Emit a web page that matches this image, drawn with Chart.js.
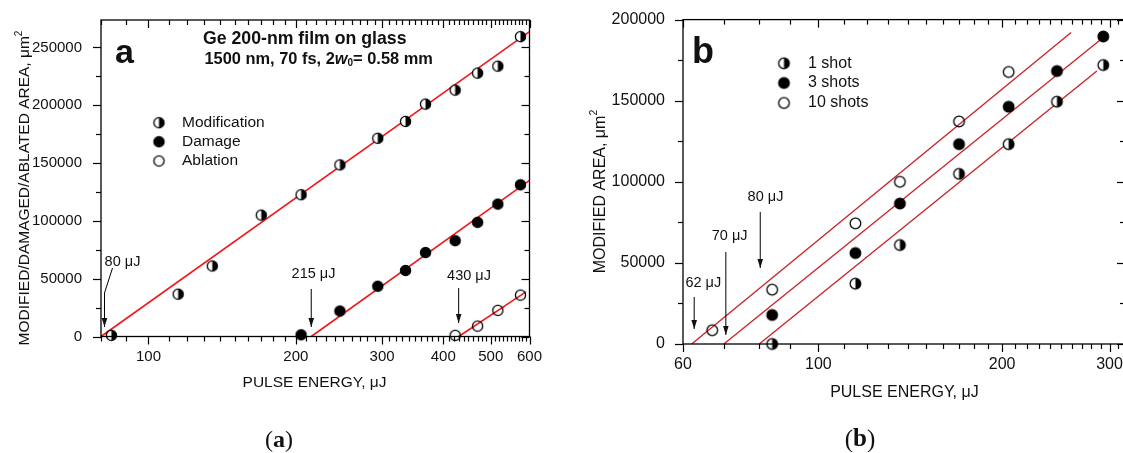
<!DOCTYPE html>
<html>
<head>
<meta charset="utf-8">
<title>Ge 200-nm film on glass: modified area vs pulse energy</title>
<script src="https://cdn.jsdelivr.net/npm/chart.js@4.4.1/dist/chart.umd.min.js"></script>
<style>
  html, body { margin: 0; padding: 0; background: #fff; }
  body { position: relative; width: 1123px; height: 453px; overflow: hidden; }
  canvas { position: absolute; top: 0; }
  #chartA { left: 0; }
  #chartB { left: 560px; }
</style>
</head>
<body>
<canvas id="chartA" width="560" height="453"></canvas>
<canvas id="chartB" width="580" height="453"></canvas>
<script>
// ============================================
// Data - panel (a): Ge film, one shot per spot
// ============================================

const A_MOD_E = [84, 115, 135, 170, 205, 246, 294, 335, 368, 423, 470, 517, 575];
const A_MOD = [1000, 36600, 61000, 105000, 122600, 148400, 171400, 186000, 201000, 213100, 227800, 233800, 259300];
const A_DMG_E = [205, 246, 294, 335, 368, 423, 470, 517, 575];
const A_DMG = [1500, 22000, 43500, 57100, 72600, 82900, 98700, 114500, 131200];
const A_ABL_E = [423, 470, 517, 575];
const A_ABL = [1000, 9000, 22600, 35800];

// fitted lines (end points)
const A_MOD_FIT_E = [80, 600];
const A_MOD_FIT = [0, 263600];
const A_DMG_FIT_E = [215, 600];
const A_DMG_FIT = [0, 135000];
const A_ABL_FIT_E = [430, 590];
const A_ABL_FIT = [0, 38600];

const A_LEGEND = ['Modification', 'Damage', 'Ablation'];
const A_THRESH = [80, 215, 430];
const A_X_TICKS = [100, 200, 300, 400, 500, 600];
const A_Y_TICKS = [0, 50000, 100000, 150000, 200000, 250000];

// ============================================
// Data - panel (b): number of shots
// ============================================

const B_E = [84, 115, 136, 170, 205, 246, 293];
const B_1SHOT = [0, 37200, 61000, 104900, 123200, 149400, 172000];
const B_3SHOT = [17900, 56100, 86600, 123200, 146300, 168300, 189600];
const B_10SHOT_E = [67, 84, 115, 136, 170, 205];
const B_10SHOT = [8500, 33500, 74400, 100000, 137200, 167700];

const B_1SHOT_FIT_E = [80, 286];
const B_1SHOT_FIT = [0, 168300];
const B_3SHOT_FIT_E = [70, 296];
const B_3SHOT_FIT = [0, 190400];
const B_10SHOT_FIT_E = [62, 259.5];
const B_10SHOT_FIT = [0, 192000];

const B_LEGEND = ['1 shot', '3 shots', '10 shots'];
const B_THRESH = [62, 70, 80];
const B_X_TICKS = [60, 100, 200, 300];
const B_Y_TICKS = [0, 50000, 100000, 150000, 200000];

// ============================================
// Helpers
// ============================================

const SANS = '"Liberation Sans", Arial, sans-serif';
const SERIF = '"Liberation Serif", "DejaVu Serif", serif';
const INK = '#111';

function pts(xs, ys) {
    return xs.map((x, i) => ({ x: x, y: ys[i] }));
}

// marker sprites: half-filled, filled and open circles
function dotImage(kind, r) {
    const s = Math.ceil(r * 2 + 4);
    const c = document.createElement('canvas');
    c.width = c.height = s;
    const g = c.getContext('2d');
    const m = s / 2;
    if (kind !== 'open') {
        g.beginPath();
        g.arc(m, m, r, 0, Math.PI * 2);
        g.fillStyle = kind === 'full' ? '#000' : '#fff';
        g.fill();
    }
    if (kind === 'half') {
        g.beginPath();
        g.arc(m, m, r, -Math.PI / 2, Math.PI / 2);
        g.closePath();
        g.fillStyle = '#000';
        g.fill();
    }
    g.beginPath();
    g.arc(m, m, r, 0, Math.PI * 2);
    g.lineWidth = 1.3;
    g.strokeStyle = '#000';
    g.stroke();
    return c;
}

// draws text pieces one after another (for sub/superscripts)
function richWidth(ctx, parts) {
    let w = 0;
    parts.forEach(p => { ctx.font = p.f; w += ctx.measureText(p.t).width; });
    return w;
}

function richText(ctx, parts, x, y) {
    ctx.textAlign = 'left';
    ctx.textBaseline = 'middle';
    parts.forEach(p => {
        ctx.font = p.f;
        ctx.fillText(p.t, x, y + (p.dy || 0));
        x += ctx.measureText(p.t).width;
    });
}

function arrow(ctx, path) {
    ctx.beginPath();
    ctx.moveTo(path[0][0], path[0][1]);
    for (let i = 1; i < path.length; i++) ctx.lineTo(path[i][0], path[i][1]);
    ctx.stroke();
    const [x1, y1] = path[path.length - 2];
    const [x2, y2] = path[path.length - 1];
    const a = Math.atan2(y2 - y1, x2 - x1);
    const L = 9, W = 2.8;
    ctx.beginPath();
    ctx.moveTo(x2, y2);
    ctx.lineTo(x2 - L * Math.cos(a) + W * Math.sin(a), y2 - L * Math.sin(a) - W * Math.cos(a));
    ctx.lineTo(x2 - L * Math.cos(a) - W * Math.sin(a), y2 - L * Math.sin(a) + W * Math.cos(a));
    ctx.closePath();
    ctx.fill();
}

function tenSteps(min, max, skip) {
    const out = [];
    for (let v = Math.ceil(min / 10) * 10; v <= max + 1e-6; v += 10) {
        if (skip.indexOf(v) < 0) out.push(v);
    }
    return out;
}

function segment(ctx, x1, y1, x2, y2) {
    ctx.beginPath();
    ctx.moveTo(x1, y1);
    ctx.lineTo(x2, y2);
    ctx.stroke();
}

// ============================================
// Decoration plugin (frame, ticks, labels, legend)
// ============================================

function decoPlugin(cfg) {
    return {
        id: 'deco',
        afterDraw(chart) {
            const ctx = chart.ctx;
            const ca = chart.chartArea;
            const xs = chart.scales.x;
            const ys = chart.scales.y;
            const px = v => Math.round(xs.getPixelForValue(v)) + 0.5;
            const py = v => Math.round(ys.getPixelForValue(v)) + 0.5;
            const L = ca.left, R = ca.right, T = ca.top, B = ca.bottom;

            ctx.save();
            ctx.strokeStyle = '#000';
            ctx.fillStyle = INK;

            // frame
            ctx.lineWidth = 1.3;
            ctx.strokeRect(L, T, R - L, B - T);

            // ticks: outward on bottom/left, inward on top/right
            ctx.lineWidth = 1.2;
            const xMinor = tenSteps(cfg.xMin, cfg.xMax, cfg.xTicks);
            const yMinor = cfg.yTicks.map(v => v + 25000).filter(v => v < cfg.yMax);
            cfg.xTicks.forEach(v => {
                const p = px(v);
                segment(ctx, p, B, p, B + 8);
                segment(ctx, p, T, p, T + 8);
            });
            xMinor.forEach(v => {
                const p = px(v);
                segment(ctx, p, B, p, B + 5);
                segment(ctx, p, T, p, T + 5);
            });
            cfg.yTicks.forEach(v => {
                const p = py(v);
                segment(ctx, L, p, L - 8, p);
                segment(ctx, R, p, R - 8, p);
            });
            yMinor.forEach(v => {
                const p = py(v);
                segment(ctx, L, p, L - 5, p);
                segment(ctx, R, p, R - 5, p);
            });

            // panel letter
            ctx.font = cfg.letter.f;
            ctx.textAlign = 'left';
            ctx.textBaseline = 'alphabetic';
            ctx.fillText(cfg.letter.t, cfg.letter.x, cfg.letter.y);

            // heading lines
            (cfg.heading || []).forEach(h => richText(ctx, h.parts, h.x, h.y));

            // legend
            const lg = cfg.legend;
            lg.labels.forEach((t, i) => {
                const img = lg.dots[i];
                ctx.drawImage(img, lg.dotX - img.width / 2, lg.ys[i] - img.height / 2);
                ctx.font = lg.f;
                ctx.textAlign = 'left';
                ctx.textBaseline = 'middle';
                ctx.fillText(t, lg.textX, lg.ys[i]);
            });

            // threshold arrows
            ctx.lineWidth = 1;
            cfg.arrows.forEach(a => {
                const X = xs.getPixelForValue(a.value) + a.dx;
                arrow(ctx, a.path(X));
                ctx.font = cfg.noteFont;
                ctx.textAlign = 'center';
                ctx.textBaseline = 'middle';
                ctx.fillText(a.label, a.lx, a.ly);
            });

            // x axis title
            const xt = cfg.xTitle;
            richText(ctx, xt.parts, xt.x - richWidth(ctx, xt.parts) / 2, xt.y);

            // y axis title (rotated)
            const yt = cfg.yTitle;
            ctx.save();
            ctx.translate(yt.x, yt.y);
            ctx.rotate(-Math.PI / 2);
            richText(ctx, yt.parts, -richWidth(ctx, yt.parts) / 2, 0);
            ctx.restore();

            // caption under the panel
            const cp = cfg.caption;
            richText(ctx, cp.parts, cp.x - richWidth(ctx, cp.parts) / 2, cp.y);

            ctx.restore();
        }
    };
}

// ============================================
// Chart factory
// ============================================

function makeChart(id, cfg) {
    return new Chart(document.getElementById(id), {
        type: 'scatter',
        data: { datasets: cfg.datasets },
        options: {
            responsive: false,
            animation: false,
            devicePixelRatio: 1,
            layout: { padding: cfg.pad },
            plugins: {
                legend: { display: false },
                tooltip: { enabled: false }
            },
            scales: {
                x: {
                    type: 'logarithmic',
                    min: cfg.xMin,
                    max: cfg.xMax,
                    grid: { display: false },
                    border: { display: false },
                    afterFit: s => { s.height = cfg.xH; },
                    afterBuildTicks: s => { s.ticks = cfg.xTicks.map(v => ({ value: v })); },
                    ticks: {
                        autoSkip: false,
                        maxRotation: 0,
                        padding: cfg.xPad,
                        color: INK,
                        font: { family: SANS, size: cfg.tickSize },
                        callback: v => String(v)
                    }
                },
                y: {
                    type: 'linear',
                    min: 0,
                    max: cfg.yMax,
                    grid: { display: false },
                    border: { display: false },
                    afterFit: s => { s.width = cfg.yW; },
                    afterBuildTicks: s => { s.ticks = cfg.yTicks.map(v => ({ value: v })); },
                    ticks: {
                        padding: cfg.yPad,
                        color: INK,
                        font: { family: SANS, size: cfg.tickSize },
                        callback: v => String(v)
                    }
                }
            }
        },
        plugins: [decoPlugin(cfg)]
    });
}

function markers(data, img) {
    return { data: data, pointStyle: img, pointRadius: 5, pointHoverRadius: 5, showLine: false, clip: false, order: 1 };
}

function fitLine(data, color, width) {
    return { data: data, showLine: true, pointRadius: 0, pointHoverRadius: 0, borderColor: color, borderWidth: width, clip: false, order: 2 };
}

// ============================================
// Panel (a)
// ============================================

const dotsA = [dotImage('half', 5.1), dotImage('full', 5.1), dotImage('open', 5.1)];
const RED_A = '#f2191c';

makeChart('chartA', {
    datasets: [
        markers(pts(A_MOD_E, A_MOD), dotsA[0]),
        markers(pts(A_DMG_E, A_DMG), dotsA[1]),
        markers(pts(A_ABL_E, A_ABL), dotsA[2]),
        fitLine(pts(A_MOD_FIT_E, A_MOD_FIT), RED_A, 1.6),
        fitLine(pts(A_DMG_FIT_E, A_DMG_FIT), RED_A, 1.6),
        fitLine(pts(A_ABL_FIT_E, A_ABL_FIT), RED_A, 1.6)
    ],
    pad: { left: 0, top: 19, right: 30.5, bottom: 0 },
    xH: 116.5, yW: 101,
    xMin: 80, xMax: 600, yMax: 273700,
    xTicks: A_X_TICKS, yTicks: A_Y_TICKS,
    tickSize: 15, xPad: 3, yPad: 11,
    letter: { t: 'a', f: 'bold 34px ' + SANS, x: 115, y: 63 },
    heading: [
        { x: 203, y: 39, parts: [{ t: 'Ge 200-nm film on glass', f: 'bold 17.7px ' + SANS }] },
        { x: 204.5, y: 59, parts: [
            { t: '1500 nm, 70 fs, 2', f: 'bold 16.4px ' + SANS },
            { t: 'w', f: 'italic bold 16.4px ' + SANS },
            { t: '0', f: 'bold 10px ' + SANS, dy: 4 },
            { t: '= 0.58 mm', f: 'bold 16.4px ' + SANS }
        ] }
    ],
    legend: { labels: A_LEGEND, dots: dotsA, dotX: 159, textX: 182, ys: [122.7, 141.7, 161], f: '15.5px ' + SANS },
    noteFont: '14.5px ' + SANS,
    arrows: [
        { label: A_THRESH[0] + ' μJ', value: A_THRESH[0], dx: 3.5, lx: 122.5, ly: 261.5,
          path: X => [[112.5, 268], [X, 293], [X, 327]] },
        { label: A_THRESH[1] + ' μJ', value: A_THRESH[1], dx: 0, lx: 313.5, ly: 274,
          path: X => [[X, 289], [X, 327]] },
        { label: A_THRESH[2] + ' μJ', value: A_THRESH[2], dx: 0, lx: 469, ly: 276,
          path: X => [[X, 288], [X, 323]] }
    ],
    xTitle: { x: 314.5, y: 383, parts: [{ t: 'PULSE ENERGY, μJ', f: '15.5px ' + SANS }] },
    yTitle: { x: 25, y: 188, parts: [
        { t: 'MODIFIED/DAMAGED/ABLATED AREA, μm', f: '15.5px ' + SANS },
        { t: '2', f: '10px ' + SANS, dy: -6 }
    ] },
    caption: { x: 279, y: 440.5, parts: [
        { t: '(', f: '24px ' + SERIF },
        { t: 'a', f: 'bold 24px ' + SERIF },
        { t: ')', f: '24px ' + SERIF }
    ] }
});

// ============================================
// Panel (b)
// ============================================

const dotsB = [dotImage('half', 5.3), dotImage('full', 5.3), dotImage('open', 5.3)];
const RED_B = '#c9252b';

makeChart('chartB', {
    datasets: [
        markers(pts(B_E, B_1SHOT), dotsB[0]),
        markers(pts(B_E, B_3SHOT), dotsB[1]),
        markers(pts(B_10SHOT_E, B_10SHOT), dotsB[2]),
        fitLine(pts(B_1SHOT_FIT_E, B_1SHOT_FIT), RED_B, 1.4),
        fitLine(pts(B_3SHOT_FIT_E, B_3SHOT_FIT), RED_B, 1.4),
        fitLine(pts(B_10SHOT_FIT_E, B_10SHOT_FIT), RED_B, 1.4)
    ],
    pad: { left: 0, top: 16.5, right: 15, bottom: 0 },
    xH: 109, yW: 123,
    xMin: 60, xMax: 318, yMax: 200000,
    xTicks: B_X_TICKS, yTicks: B_Y_TICKS,
    tickSize: 16, xPad: 3, yPad: 10,
    letter: { t: 'b', f: 'bold 36px ' + SANS, x: 132, y: 63 },
    heading: [],
    legend: { labels: B_LEGEND, dots: dotsB, dotX: 224, textX: 248, ys: [63.3, 83, 103], f: '16px ' + SANS },
    noteFont: '14.5px ' + SANS,
    arrows: [
        { label: B_THRESH[0] + ' μJ', value: B_THRESH[0], dx: 2.5, lx: 143.3, ly: 283.3,
          path: X => [[X, 297], [X, 329]] },
        { label: B_THRESH[1] + ' μJ', value: B_THRESH[1], dx: 2, lx: 169.6, ly: 235.7,
          path: X => [[X, 252], [X, 335]] },
        { label: B_THRESH[2] + ' μJ', value: B_THRESH[2], dx: 1, lx: 205.5, ly: 197,
          path: X => [[X, 212], [X, 268]] }
    ],
    xTitle: { x: 344.4, y: 392.7, parts: [{ t: 'PULSE ENERGY, μJ', f: '16px ' + SANS }] },
    yTitle: { x: 40.4, y: 191.5, parts: [
        { t: 'MODIFIED AREA, μm', f: '16px ' + SANS },
        { t: '2', f: '10.5px ' + SANS, dy: -6 }
    ] },
    caption: { x: 300, y: 440, parts: [
        { t: '(', f: '25px ' + SERIF },
        { t: 'b', f: 'bold 25px ' + SERIF },
        { t: ')', f: '25px ' + SERIF }
    ] }
});
</script>
</body>
</html>
